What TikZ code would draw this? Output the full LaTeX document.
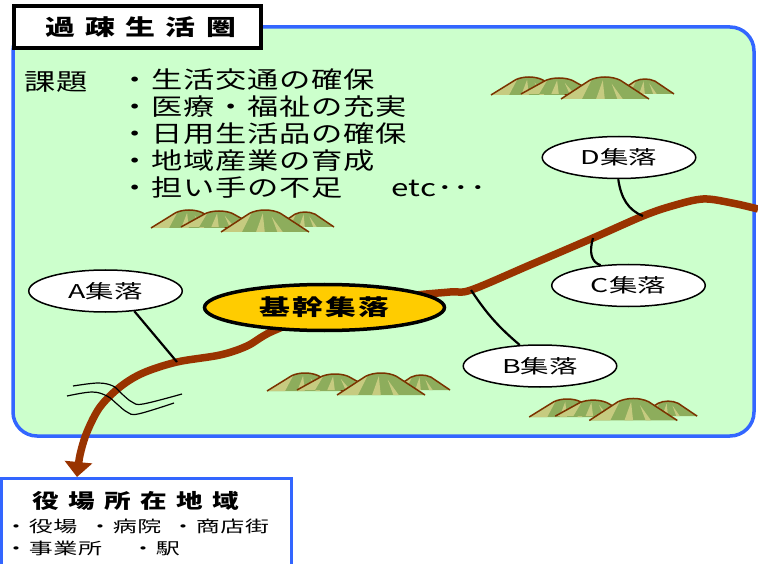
\documentclass[tikz,border=0pt]{standalone}
\usepackage{fontspec}
\setmainfont{Noto Sans CJK JP}
\usetikzlibrary{arrows.meta,shapes.geometric}
\definecolor{panelfill}{HTML}{CCFFCC}
\definecolor{panelblue}{HTML}{3366FF}
\definecolor{roadc}{HTML}{993300}
\definecolor{corefill}{HTML}{FFCC00}
\definecolor{hilllight}{HTML}{C6CB80}
\definecolor{hilldark}{HTML}{8DAD5C}
\definecolor{hillline}{HTML}{7A3300}
\tikzset{
  hill/.pic={
    \fill[hilldark] (-1,0) -- (-0.35,-0.85) .. controls (-0.15,-1.05) and (0.15,-1.05) .. (0.35,-0.85) -- (1,0) -- cycle;
    \begin{scope}
      \clip (-1,0) -- (-0.35,-0.85) .. controls (-0.15,-1.05) and (0.15,-1.05) .. (0.35,-0.85) -- (1,0) -- cycle;
      \fill[hilllight] (-1.1,0.1) -- (-0.3,-0.9) -- (-0.55,0.1) -- cycle;
      \fill[hilllight] (-0.05,-0.85) -- (-0.22,0.1) -- (0.0,0.1) -- cycle;
      \fill[hilllight] (0.15,-0.7) -- (0.3,0.1) -- (0.44,0.1) -- cycle;
    \end{scope}
    \draw[hillline,line width=1.5pt,line join=round] (-1,0) -- (-0.35,-0.85) .. controls (-0.15,-1.05) and (0.15,-1.05) .. (0.35,-0.85) -- (1,0);
  },
  mtns/.pic={
    \pic[xscale=38,yscale=18] at (37,0) {hill};
    \pic[xscale=38,yscale=16] at (67,-1) {hill};
    \pic[xscale=29,yscale=15] at (153,-1) {hill};
    \pic[xscale=44,yscale=22] at (113,4) {hill};
  },
  bodytext/.style={anchor=base west,inner sep=0pt,
    font=\fontsize{23.5}{24}\selectfont\addfontfeatures{FakeStretch=1.33,LetterSpace=3}},
  village/.style={ellipse,draw=black,line width=1.5pt,fill=white,
    minimum width=153.5pt,minimum height=42pt,inner sep=0pt,
    font=\fontsize{19}{19}\selectfont\addfontfeatures{FakeStretch=1.5}},
  corevillage/.style={ellipse,draw=black,line width=3.5pt,fill=corefill,
    minimum width=240pt,minimum height=46pt,inner sep=0pt,
    font=\fontsize{22}{22}\selectfont\bfseries\addfontfeatures{FakeStretch=1.4,LetterSpace=10}},
  titlebox/.style={draw=black,line width=3.5pt,fill=white,
    minimum width=247pt,minimum height=42pt,inner sep=0pt,
    font=\fontsize{22}{22}\selectfont\bfseries\addfontfeatures{FakeStretch=1.36,LetterSpace=47}},
  conn/.style={draw=black,line width=2.2pt},
  roadline/.style={draw=roadc,line width=7.5pt,line join=round},
  river/.style={draw=black,line width=1.2pt},
  listtext/.style={anchor=base west,inner sep=0pt,
    font=\fontsize{16}{16}\selectfont\addfontfeatures{FakeStretch=1.5,LetterSpace=4}},
  areatitle/.style={anchor=base west,inner sep=0pt,
    font=\fontsize{20}{20}\selectfont\bfseries\addfontfeatures{FakeStretch=1.33,LetterSpace=47}}
}
\begin{document}
\begin{tikzpicture}[x=1pt,y=-1pt]
\useasboundingbox (0,0) rectangle (758,564);
% main panel
\draw[panelblue,fill=panelfill,line width=3.5pt,rounded corners=24pt] (13,27) rectangle (754,436);
% bottom box
\draw[panelblue,fill=white,line width=3pt] (1.5,478) rectangle (291,620);
% mountains
\pic at (492,95) {mtns};
\pic at (152,228) {mtns};
\pic at (268,391) {mtns};
\pic[scale=0.87] at (535,417) {mtns};
% road junctions
\coordinate (jA) at (177,362);
\coordinate (jB) at (471,290);
\coordinate (jC) at (593,238);
\coordinate (jD) at (643,216);
\coordinate (roadstart) at (758,209);
\coordinate (roadend) at (77,477);
% road
\draw[roadline,-{Triangle[width=27pt,length=15pt]}] plot[smooth,tension=0.55] coordinates {
  (roadstart) (732,203) (703,199) (672,206) (jD) (jC) (530,265) (jB) (450,292)
  (400,297) (330,310) (273,331) (247,346) (220,355) (jA) (143,373) (120,387)
  (100,407) (87,432) (80,455) (roadend)};
% river
\draw[river] plot[smooth,tension=0.6] coordinates {(73,386) (98,383) (113,386) (122,394) (132,402) (143,404) (182,394)};
\draw[river] plot[smooth,tension=0.6] coordinates {(67,396) (92,392) (107,396) (117,404) (127,412) (138,414) (174,403)};
% villages
\node[corevillage] (core) at (324.5,307.5) {基幹集落};
\node[village] (A) at (105.5,291) {A集落};
\node[village] (B) at (540,366) {B集落};
\node[village] (C) at (628.5,285.5) {C集落};
\node[village] (D) at (619,157.5) {D集落};
% connectors
\draw[conn] (A.-35.5) -- (jA);
\draw[conn] (jB) to[bend right=8] (B.134);
\draw[conn] (jC) .. controls (589,252) and (591,262) .. (C.144);
\draw[conn] (D.-92) .. controls (621,198) and (628,210) .. (jD);
% issues
\node[bodytext] (kadai) at (24,91) {課題};
\node[bodytext] (i1) at (119.5,89) {・生活交通の確保};
\node[bodytext] (i2) at (119.5,116) {・医療・福祉の充実};
\node[bodytext] (i3) at (119.5,143) {・日用生活品の確保};
\node[bodytext] (i4) at (119.5,170) {・地域産業の育成};
\node[bodytext] (i5) at (119.5,197) {・担い手の不足};
\node[bodytext] (etc) at (391,197) {etc･･･};
% title
\node[titlebox] (title) at (137.5,27) {\hspace*{6pt}過疎生活圏};
% bottom area text
\node[areatitle] (areat) at (32,508.5) {役場所在地域};
\node[listtext] (l1) at (4,532) {・役場};
\node[listtext] (l2) at (88,532) {・病院};
\node[listtext] (l3) at (171,532) {・商店街};
\node[listtext] (l4) at (4,554) {・事業所};
\node[listtext] (l5) at (131,554) {・駅};
\end{tikzpicture}
\end{document}
